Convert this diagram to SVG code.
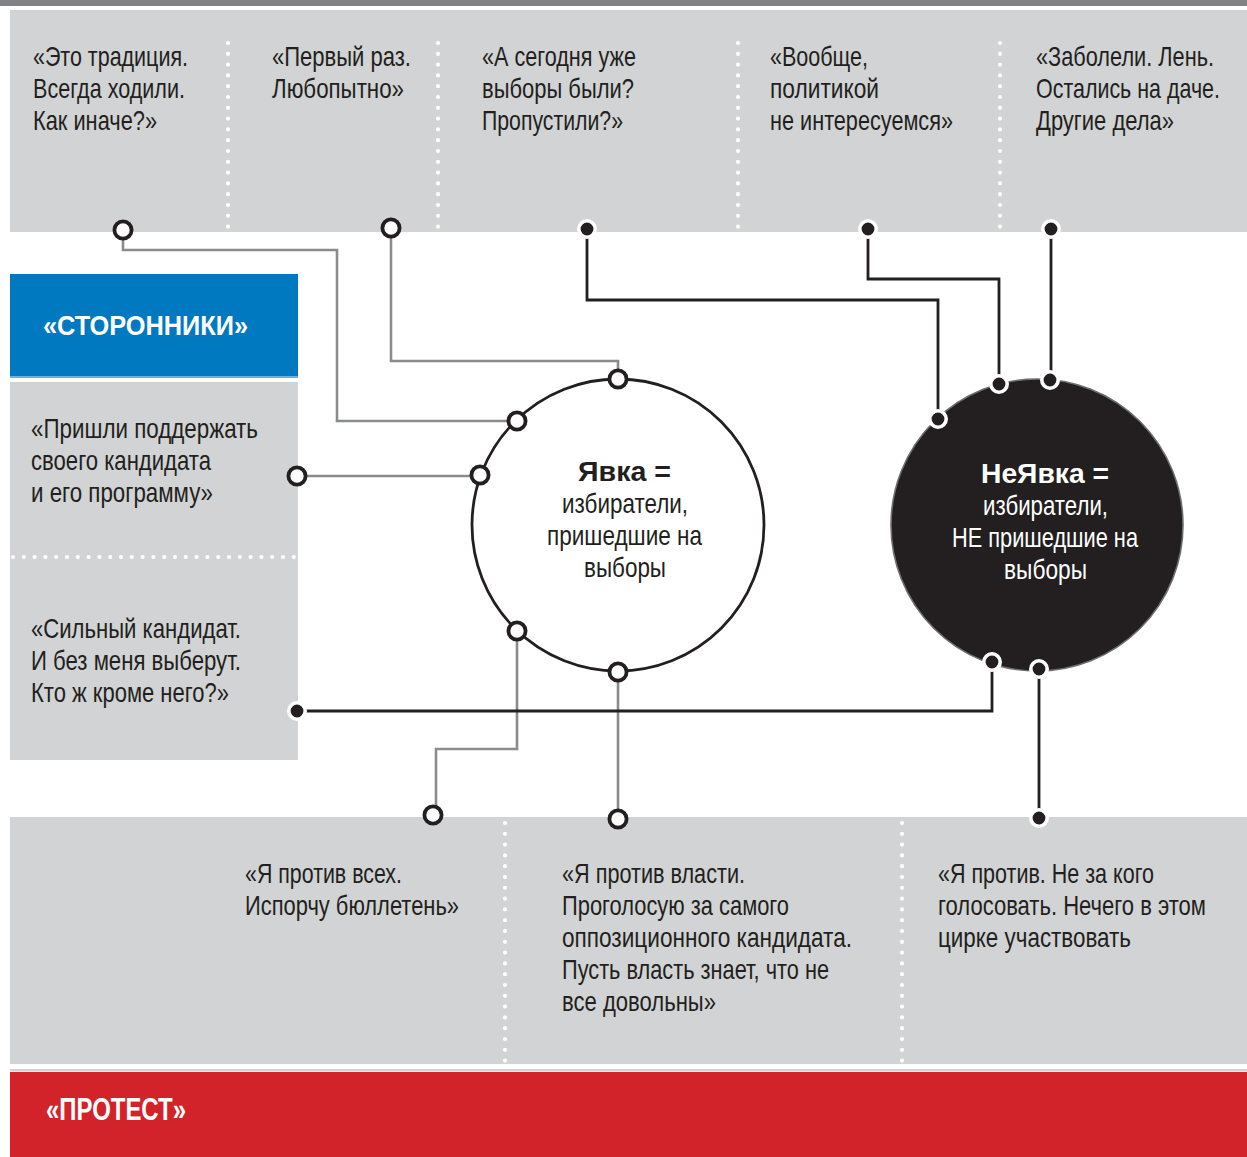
<svg xmlns="http://www.w3.org/2000/svg" width="1247" height="1157" viewBox="0 0 1247 1157">
<style>
.t{font-family:"Liberation Sans",Arial,sans-serif;font-size:21px;fill:#231f20}
.b{font-weight:bold}
.w{fill:#ffffff}
.panel{fill:#d1d3d4}
.dots{stroke:#ffffff;stroke-width:4.2;stroke-linecap:round;stroke-dasharray:0 10.8;fill:none}
.gl{fill:none;stroke:#8a8b8d;stroke-width:2.6}
.bl{fill:none;stroke:#231f20;stroke-width:2.8}
.oc{fill:#ffffff;stroke:#231f20;stroke-width:3.8}
.fc{fill:#231f20;stroke:#ffffff;stroke-width:3.6}
</style>
<rect x="0" y="0" width="1247" height="1157" fill="#ffffff"/>
<g id="frame">
<rect x="0" y="0" width="1247" height="6" fill="#808285"/>
<rect x="10" y="10" width="1237" height="222" class="panel"/>
<line x1="228" y1="43" x2="228" y2="231" class="dots"/>
<line x1="438" y1="43" x2="438" y2="231" class="dots"/>
<line x1="738" y1="43" x2="738" y2="231" class="dots"/>
<line x1="1000" y1="43" x2="1000" y2="231" class="dots"/>
<rect x="10" y="382" width="288" height="378" class="panel"/>
<line x1="13" y1="557" x2="297" y2="557" class="dots"/>
<rect x="10" y="817" width="1237" height="247" class="panel"/>
<line x1="505" y1="823" x2="505" y2="1062" class="dots"/>
<line x1="902" y1="823" x2="902" y2="1062" class="dots"/>
<rect x="10" y="1069" width="1237" height="2.5" fill="#d1d3d4"/>
</g>
<g id="storonniki">
<rect x="10" y="274" width="288" height="102" fill="#0079c1"/>
<rect x="10" y="376" width="288" height="2" fill="#6ab0e0"/>
<text class="t b w" font-size="25" transform="translate(43 335) scale(1 1.32)" textLength="205" lengthAdjust="spacingAndGlyphs">«СТОРОННИКИ»</text>
</g>
<g id="protest">
<rect x="10" y="1072" width="1237" height="85" fill="#d2232a"/>
<text class="t b w" font-size="24" transform="translate(46 1120) scale(1 1.48)" textLength="140" lengthAdjust="spacingAndGlyphs">«ПРОТЕСТ»</text>
</g>
<g id="q-tradition">
<text class="t" transform="translate(33 66) scale(1 1.32)" textLength="155" lengthAdjust="spacingAndGlyphs">«Это традиция.</text>
<text class="t" transform="translate(33 98) scale(1 1.32)" textLength="152" lengthAdjust="spacingAndGlyphs">Всегда ходили.</text>
<text class="t" transform="translate(33 130) scale(1 1.32)" textLength="124" lengthAdjust="spacingAndGlyphs">Как иначе?»</text>
</g>
<g id="q-first">
<text class="t" transform="translate(272 66) scale(1 1.32)" textLength="139" lengthAdjust="spacingAndGlyphs">«Первый раз.</text>
<text class="t" transform="translate(272 98) scale(1 1.32)" textLength="132" lengthAdjust="spacingAndGlyphs">Любопытно»</text>
</g>
<g id="q-today">
<text class="t" transform="translate(482 66) scale(1 1.32)" textLength="154" lengthAdjust="spacingAndGlyphs">«А сегодня уже</text>
<text class="t" transform="translate(482 98) scale(1 1.32)" textLength="152" lengthAdjust="spacingAndGlyphs">выборы были?</text>
<text class="t" transform="translate(482 130) scale(1 1.32)" textLength="141" lengthAdjust="spacingAndGlyphs">Пропустили?»</text>
</g>
<g id="q-politics">
<text class="t" transform="translate(770 66) scale(1 1.32)" textLength="98" lengthAdjust="spacingAndGlyphs">«Вообще,</text>
<text class="t" transform="translate(770 98) scale(1 1.32)" textLength="109" lengthAdjust="spacingAndGlyphs">политикой</text>
<text class="t" transform="translate(770 130) scale(1 1.32)" textLength="183" lengthAdjust="spacingAndGlyphs">не интересуемся»</text>
</g>
<g id="q-ill">
<text class="t" transform="translate(1036 66) scale(1 1.32)" textLength="178" lengthAdjust="spacingAndGlyphs">«Заболели. Лень.</text>
<text class="t" transform="translate(1036 98) scale(1 1.32)" textLength="184" lengthAdjust="spacingAndGlyphs">Остались на даче.</text>
<text class="t" transform="translate(1036 130) scale(1 1.32)" textLength="138" lengthAdjust="spacingAndGlyphs">Другие дела»</text>
</g>
<g id="q-support">
<text class="t" transform="translate(31 438) scale(1 1.32)" textLength="227" lengthAdjust="spacingAndGlyphs">«Пришли поддержать</text>
<text class="t" transform="translate(31 470) scale(1 1.32)" textLength="180" lengthAdjust="spacingAndGlyphs">своего кандидата</text>
<text class="t" transform="translate(31 502) scale(1 1.32)" textLength="182" lengthAdjust="spacingAndGlyphs">и его программу»</text>
</g>
<g id="q-strong">
<text class="t" transform="translate(31 638) scale(1 1.32)" textLength="210" lengthAdjust="spacingAndGlyphs">«Сильный кандидат.</text>
<text class="t" transform="translate(31 670) scale(1 1.32)" textLength="210" lengthAdjust="spacingAndGlyphs">И без меня выберут.</text>
<text class="t" transform="translate(31 702) scale(1 1.32)" textLength="198" lengthAdjust="spacingAndGlyphs">Кто ж кроме него?»</text>
</g>
<g id="q-all">
<text class="t" transform="translate(245 883) scale(1 1.32)" textLength="157" lengthAdjust="spacingAndGlyphs">«Я против всех.</text>
<text class="t" transform="translate(245 915) scale(1 1.32)" textLength="214" lengthAdjust="spacingAndGlyphs">Испорчу бюллетень»</text>
</g>
<g id="q-power">
<text class="t" transform="translate(562 883) scale(1 1.32)" textLength="183" lengthAdjust="spacingAndGlyphs">«Я против власти.</text>
<text class="t" transform="translate(562 915) scale(1 1.32)" textLength="227" lengthAdjust="spacingAndGlyphs">Проголосую за самого</text>
<text class="t" transform="translate(562 947) scale(1 1.32)" textLength="290" lengthAdjust="spacingAndGlyphs">оппозиционного кандидата.</text>
<text class="t" transform="translate(562 979) scale(1 1.32)" textLength="267" lengthAdjust="spacingAndGlyphs">Пусть власть знает, что не</text>
<text class="t" transform="translate(562 1011) scale(1 1.32)" textLength="154" lengthAdjust="spacingAndGlyphs">все довольны»</text>
</g>
<g id="q-against">
<text class="t" transform="translate(938 883) scale(1 1.32)" textLength="216" lengthAdjust="spacingAndGlyphs">«Я против. Не за кого</text>
<text class="t" transform="translate(938 915) scale(1 1.32)" textLength="268" lengthAdjust="spacingAndGlyphs">голосовать. Нечего в этом</text>
<text class="t" transform="translate(938 947) scale(1 1.32)" textLength="193" lengthAdjust="spacingAndGlyphs">цирке участвовать</text>
</g>
<g id="connectors">
<path class="gl" d="M123 230 V250 H337 V421 H517"/>
<path class="gl" d="M391 228 V361 H618 V379"/>
<path class="gl" d="M297 476 H480"/>
<path class="gl" d="M517 631 V749 H436 V815"/>
<path class="gl" d="M618 672 V819"/>
<path class="bl" d="M587 229 V300 H938 V419"/>
<path class="bl" d="M868 229 V279 H999 V384"/>
<path class="bl" d="M1051 229 V381"/>
<path class="bl" d="M992 662 V711 H297"/>
<path class="bl" d="M1039 669 V818"/>
</g>
<g id="yavka">
<circle cx="618" cy="525" r="146" fill="#ffffff" stroke="#231f20" stroke-width="2.8"/>
<text class="t b" font-size="25" transform="translate(578 481) scale(1 1.32)" textLength="93" lengthAdjust="spacingAndGlyphs">Явка =</text>
<text class="t" transform="translate(562 513) scale(1 1.32)" textLength="126" lengthAdjust="spacingAndGlyphs">избиратели,</text>
<text class="t" transform="translate(547 545) scale(1 1.32)" textLength="155" lengthAdjust="spacingAndGlyphs">пришедшие на</text>
<text class="t" transform="translate(584 577) scale(1 1.32)" textLength="82" lengthAdjust="spacingAndGlyphs">выборы</text>
</g>
<g id="neyavka">
<circle cx="1037" cy="525" r="146" fill="#231f20" stroke="#6d6e71" stroke-width="1.6"/>
<text class="t b w" font-size="25" transform="translate(981 483) scale(1 1.32)" textLength="128" lengthAdjust="spacingAndGlyphs">НеЯвка =</text>
<text class="t w" transform="translate(983 515) scale(1 1.32)" textLength="125" lengthAdjust="spacingAndGlyphs">избиратели,</text>
<text class="t w" transform="translate(952 547) scale(1 1.32)" textLength="186" lengthAdjust="spacingAndGlyphs">НЕ пришедшие на</text>
<text class="t w" transform="translate(1004 579) scale(1 1.32)" textLength="83" lengthAdjust="spacingAndGlyphs">выборы</text>
</g>
<g id="endpoints">
<circle class="oc" cx="123" cy="230" r="8.6"/>
<circle class="oc" cx="391" cy="228" r="8.6"/>
<circle class="oc" cx="618" cy="379" r="8.6"/>
<circle class="oc" cx="517" cy="421" r="8.6"/>
<circle class="oc" cx="297" cy="476" r="8.6"/>
<circle class="oc" cx="480" cy="475" r="8.6"/>
<circle class="oc" cx="517" cy="631" r="8.6"/>
<circle class="oc" cx="618" cy="672" r="8.6"/>
<circle class="oc" cx="433" cy="815" r="8.6"/>
<circle class="oc" cx="618" cy="819" r="8.6"/>
<circle class="fc" cx="587" cy="229" r="8.2"/>
<circle class="fc" cx="868" cy="229" r="8.2"/>
<circle class="fc" cx="1051" cy="229" r="8.2"/>
<circle class="fc" cx="938" cy="419" r="8.2"/>
<circle class="fc" cx="999" cy="384" r="8.2"/>
<circle class="fc" cx="1050" cy="380" r="8.2"/>
<circle class="fc" cx="992" cy="662" r="8.2"/>
<circle class="fc" cx="1039" cy="669" r="8.2"/>
<circle class="fc" cx="297" cy="711" r="8.2"/>
<circle class="fc" cx="1039" cy="818" r="8.2"/>
</g>
</svg>
